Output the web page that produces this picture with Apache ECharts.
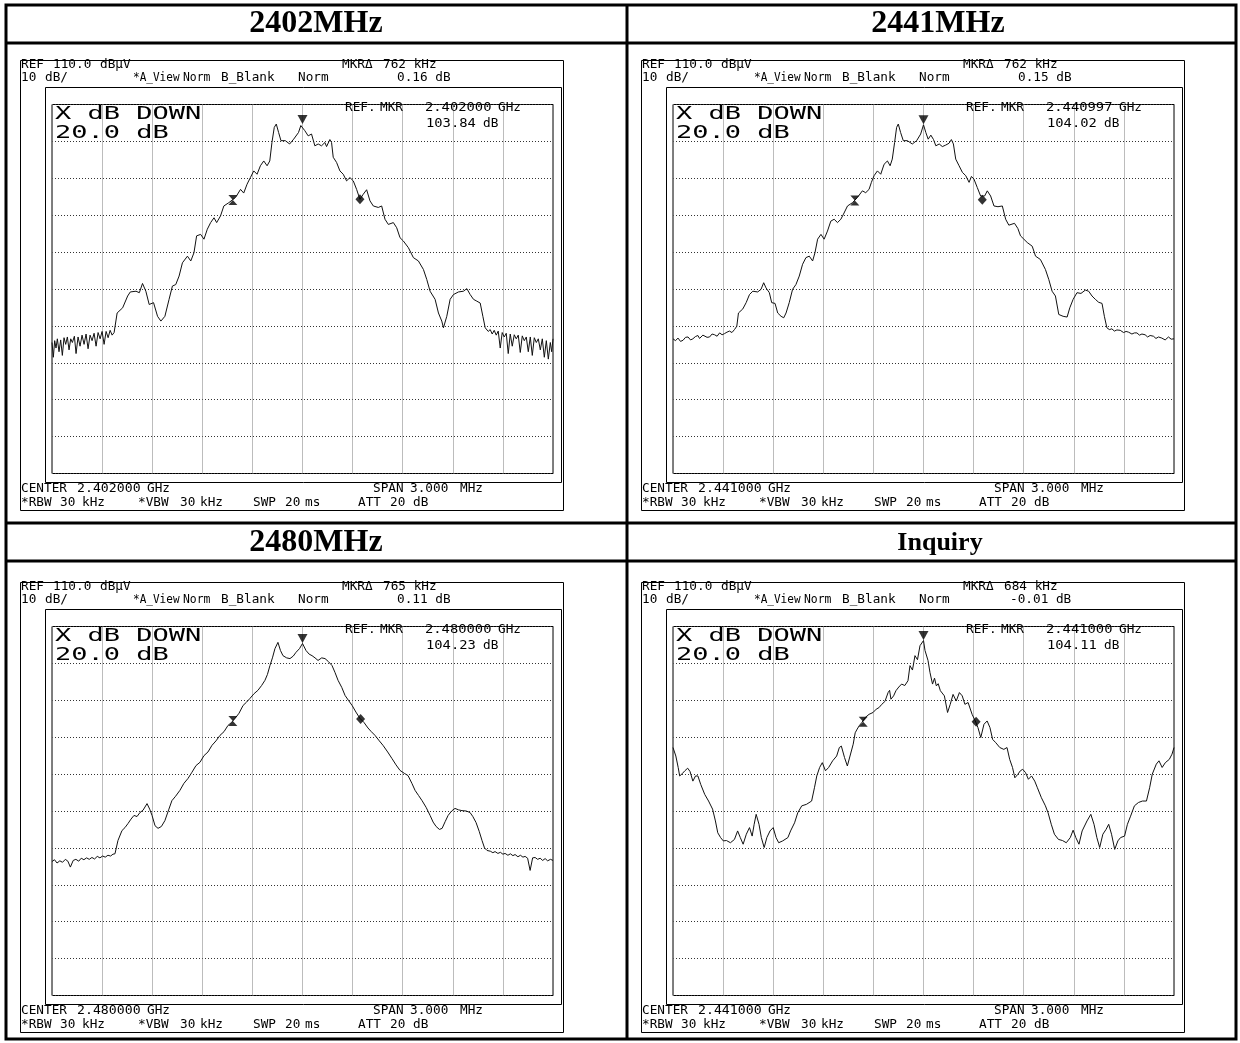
<!DOCTYPE html>
<html><head><meta charset="utf-8">
<script src="https://cdn.jsdelivr.net/npm/echarts/dist/echarts.min.js"></script>
<style>html,body{margin:0;padding:0;background:#fff}#c{width:1240px;height:1043px}</style>
</head><body><div id="c"></div>
<script>
// ---------- panel texts ----------
const titles = ['2402MHz', '2441MHz', '2480MHz', 'Inquiry'];
const mkrDeltaFreq = ['762 kHz', '762 kHz', '765 kHz', '684 kHz'];
const mkrDeltaLevel = ['0.16 dB', '0.15 dB', '0.11 dB', '-0.01 dB'];
const refMkrFreq = ['2.402000', '2.440997', '2.480000', '2.441000'];
const refMkrLevel = ['103.84', '104.02', '104.23', '104.11'];
const centerFreq = ['2.402000', '2.441000', '2.480000', '2.441000'];

// ---------- axis scale (offset kHz, dBuV) ----------
const xMin = -1500, xMax = 1500, xStep = 300;
const yMin = 10, yMax = 110, yStep = 10;

// ---------- traces: frequency offset (kHz) and level (dBuV) ----------
const freq2402 = [-1500,-1492,-1484,-1476,-1468,-1458,-1448,-1438,-1428,-1418,-1408,-1398,-1388,-1378,-1366,-1356,-1344,-1332,-1320,-1308,-1296,-1284,-1272,-1260,-1248,-1236,-1224,-1212,-1200,-1188,-1176,-1164,-1152,-1140,-1128,
 -1110,-1077,-1047,-1031,-997,-977,-958,-938,-918,-892,-868,-848,-824,-799,-779,-759,-739,-719,-689,-669,-650,-634,-610,-590,-570,-550,-530,-514,-491,-471,-441,-401,-371,-352,-332,-312,-292,-272,-252,-232,-212,-196,-183,-169,-157,-143,-129,-103,-77,-53,-24,-10,0,
 14,34,54,74,94,114,134,144,164,174,184,204,224,244,264,284,304,324,344,364,384,404,424,454,474,494,514,544,564,584,604,634,664,694,724,744,764,794,814,834,844,864,884,904,934,964,984,1004,1024,1044,1064,1080,1094,
 1100,1112,1124,1136,1148,1160,1172,1184,1196,1208,1220,1232,1244,1256,1268,1280,1292,1304,1316,1328,1340,1352,1364,1376,1388,1400,1412,1424,1436,1448,1460,1472,1484,1492,1500];
const level2402 = [45.5,41.5,46.0,44.0,46.5,43.0,46.2,42.0,46.8,45.0,47.0,43.5,46.5,45.5,47.2,42.5,47.0,44.5,47.5,45.0,47.8,43.8,47.5,46.0,48.0,44.5,48.2,46.5,48.5,45.0,48.5,46.8,48.8,47.5,48.2,
 53.5,54.9,58.1,59.2,59.4,59.0,61.5,59.4,55.8,56.3,52.6,51.3,52.6,57.2,60.8,61.2,63.5,67.1,68.9,67.6,69.8,74.4,74.8,73.5,76.2,78.0,79.3,78.0,79.8,82.5,83.4,84.8,87.0,86.0,88.4,90.2,92.0,91.1,93.4,94.7,93.4,94.7,99.7,103.8,104.7,102.4,100.2,100.2,99.3,100.6,102.4,104.3,104.6,
 102.9,101.5,102.0,98.8,99.3,98.8,99.7,98.6,100.5,99.7,95.7,94.3,92.0,91.1,89.3,90.2,89.3,87.0,84.3,85.7,86.9,83.9,82.5,82.1,82.5,78.9,77.5,78.0,76.6,73.9,73.0,71.2,68.5,67.6,65.3,62.6,59.4,57.2,53.5,51.3,49.5,52.6,57.2,58.5,59.2,59.4,60.1,58.5,57.2,56.7,56.2,52.6,49.5,
 49.2,48.5,49.0,47.8,48.8,47.5,48.6,44.0,48.2,47.0,48.0,42.5,47.8,44.5,47.6,46.5,47.5,42.8,47.3,46.0,47.0,43.0,47.0,42.0,46.8,45.5,46.5,43.5,46.5,41.5,46.0,41.0,45.5,43.0,46.5];

const freq2441 = [-1500,-1485,-1470,-1455,-1440,-1425,-1410,-1395,-1381,-1366,-1351,-1341,-1331,-1321,-1311,-1296,-1281,-1266,-1251,-1236,-1221,-1206,-1192,-1177,-1162,-1147,-1132,-1118,
 -1108,-1082,-1062,-1042,-1022,-993,-973,-957,-943,-923,-909,-889,-873,-853,-837,-823,-804,-784,-764,-744,-724,-704,-684,-664,-650,-634,-614,-595,-575,-555,-535,-515,-495,-479,-455,-425,-396,-366,-346,-326,-312,-296,-276,-256,-236,-216,-200,-187,-173,-161,-151,-137,-121,-97,-67,-41,-17,0,
 14,28,44,60,74,94,113,133,153,167,179,193,213,233,253,273,287,302,322,342,366,382,402,422,446,472,492,511,545,565,581,601,621,651,671,700,730,750,770,790,810,836,860,876,896,919,943,969,989,1009,1029,1049,1069,1083,1098,
 1113,1128,1143,1158,1178,1198,1213,1228,1248,1263,1278,1293,1308,1327,1342,1357,1377,1392,1407,1427,1447,1467,1483,1500];
const level2441 = [46.5,46.0,46.7,45.8,46.1,46.9,47.0,46.2,46.5,47.1,47.4,46.6,46.7,47.5,47.6,46.9,47.0,47.8,47.6,47.2,48.1,47.6,47.9,48.3,48.6,48.2,49.0,49.9,
 53.5,54.6,56.3,58.5,59.4,59.2,59.9,61.7,60.3,59.0,56.3,56.1,53.5,52.6,52.2,53.5,56.3,59.9,61.2,63.5,66.7,68.5,68.9,67.6,69.8,73.5,74.8,73.5,75.7,78.4,78.9,78.0,78.9,80.3,82.5,83.4,84.8,86.6,86.1,87.0,88.9,90.7,92.0,91.1,93.8,94.7,93.4,95.2,99.7,103.8,104.7,102.4,100.2,100.2,99.3,100.2,102.0,104.5,
 102.4,100.6,101.7,100.5,98.8,99.3,98.6,99.0,99.5,100.5,99.3,95.2,93.4,91.6,90.7,88.9,90.5,89.8,87.5,85.2,85.2,86.6,85.2,82.5,82.3,82.5,78.9,77.3,77.8,76.4,74.4,73.5,72.6,71.6,68.9,68.0,65.3,62.6,59.4,58.1,53.1,52.6,52.4,54.9,57.2,59.0,58.8,59.7,59.4,58.1,57.2,56.4,56.1,52.6,49.5,
 49.0,49.2,48.6,48.9,48.8,48.2,48.5,48.3,47.8,48.1,48.1,47.5,47.8,47.6,47.0,47.4,47.2,46.6,47.0,46.7,46.2,47.0,46.4,46.5];

const freq2480 = [-1500,-1485,-1470,-1453,-1437,-1420,-1405,-1390,-1373,-1357,-1340,-1325,-1309,-1293,-1277,-1261,-1245,-1229,-1213,-1197,-1181,-1165,-1149,-1135,-1123,
 -1105,-1081,-1063,-1045,-1027,-1009,-991,-973,-955,-931,-915,-901,-883,-865,-845,-824,-800,-782,-760,-734,-710,-686,-662,-638,-614,-590,-566,-542,-518,-494,-470,-446,-425,-404,-380,-356,-335,-315,-290,-267,-245,-225,-210,-195,-180,-165,-147,-132,-117,-95,-75,-55,-39,-18,0,
 21,40,57,75,93,115,135,155,177,195,213,235,255,275,297,320,344,368,392,412,434,460,482,510,536,560,584,610,632,655,674,695,716,740,764,782,800,820,836,855,872,893,913,935,955,980,1003,1020,1039,1058,1075,1090,1105,
 1125,1140,1153,1170,1185,1200,1213,1230,1245,1260,1273,1290,1305,1320,1333,1348,1363,1378,1393,1408,1423,1438,1453,1468,1485,1500];
const level2480 = [46.3,46.8,45.9,46.5,46.1,46.9,46.4,44.8,46.6,46.9,46.4,47.2,46.8,47.3,46.9,47.4,47.0,47.7,47.3,47.8,47.5,48.0,47.8,48.3,48.4,
 52.0,54.7,55.5,56.6,57.8,58.8,58.5,59.6,60.2,62.0,60.5,58.8,56.0,55.3,55.8,57.4,60.5,62.8,64.0,65.6,67.5,68.8,70.5,72.3,73.2,75.0,76.0,77.8,79.0,80.5,81.5,83.2,84.0,85.1,86.5,88.6,89.5,90.5,91.8,92.7,94.0,95.4,97.0,99.4,101.5,104.0,105.7,103.5,102.1,101.5,101.3,102.0,103.0,104.0,105.4,
 103.5,102.5,102.1,101.5,100.8,101.5,101.3,100.5,99.4,97.5,95.4,93.5,91.3,90.0,88.6,86.8,85.1,84.0,82.5,81.5,80.5,79.0,77.8,76.0,74.2,72.5,71.0,70.2,69.6,67.5,65.6,64.2,62.8,61.0,58.8,57.0,55.8,55.0,55.3,57.2,58.8,60.0,60.7,60.3,60.1,60.0,59.6,58.5,56.9,54.5,52.0,50.0,49.3,
 49.1,48.7,49.0,48.5,48.8,48.3,48.5,48.0,48.4,47.9,48.2,47.6,48.0,47.5,47.7,47.2,43.9,47.3,47.4,46.9,47.2,46.6,47.1,46.5,46.9,46.6];

const freqInquiry = [-1500,-1483,-1469,-1460,-1445,-1429,-1412,-1398,-1381,-1365,-1351,-1334,-1310,-1287,-1263,-1246,-1232,-1215,-1199,-1180,-1156,-1132,-1113,-1097,-1080,-1061,-1042,-1026,-1014,-1002,-985,-971,-954,-938,-919,-900,-883,-867,-843,-812,-796,-772,-753,-729,-701,-670,-653,-639,-622,-606,-587,-568,-544,-520,-504,-492,-473,-456,-440,-421,-409,-397,-385,-369,-350,-326,-302,-283,-267,-250,-231,-212,-203,-195,-179,-165,-148,-131,-112,-93,-81,-66,-51,-36,-21,0,
 9,27,39,54,66,77,88,101,125,144,160,177,196,215,232,248,267,291,310,326,343,362,381,398,414,433,457,481,500,516,533,547,564,580,594,611,628,647,666,682,706,730,746,765,784,808,832,855,879,896,912,931,950,979,1002,1021,1038,1055,1074,1093,1109,1126,1145,1164,1180,1204,1221,1240,1263,1287,1311,1335,1354,1370,1394,1410,1429,1448,1472,1488,1500];
const levelInquiry = [77.2,74.9,71.8,69.5,70.1,70.9,71.6,70.7,68.1,69.5,69.5,67.2,64.5,62.7,60.5,57.3,54.1,52.8,51.9,52.0,51.4,52.3,54.6,52.8,51.0,53.7,55.5,53.2,56.4,59.1,56.4,52.8,50.1,52.8,54.6,55.5,52.8,51.4,51.9,52.8,54.6,56.8,59.5,61.4,61.8,62.7,66.3,69.5,71.8,73.1,70.9,71.8,73.6,74.9,77.2,77.6,74.5,72.2,74.9,78.1,81.2,82.2,83.1,84.0,85.3,86.2,86.7,87.6,88.0,88.9,89.7,92.1,92.7,90.3,91.2,92.6,93.6,94.4,94.0,95.3,99.4,98.2,102.1,101.0,104.8,106.2,
 103.5,100.8,97.5,94.4,96.0,93.9,94.5,92.6,91.2,86.7,88.9,91.6,89.8,92.1,91.2,88.9,89.4,86.2,84.4,82.6,79.9,83.5,84.4,82.6,79.4,78.5,77.2,76.7,77.2,74.0,71.8,69.0,69.9,70.9,71.3,70.4,68.6,69.5,68.1,66.3,63.6,61.4,59.5,56.4,53.7,52.3,52.0,51.4,52.8,54.8,52.8,51.0,54.6,57.3,59.1,56.4,52.8,50.1,53.7,55.0,56.4,53.7,49.6,51.9,52.8,53.2,56.4,58.6,61.4,62.3,62.7,62.7,66.3,70.0,72.7,73.6,71.8,73.1,74.0,75.4,77.2];

// ---------- markers ----------
const peakFreq = [0, 0, 0, 0];
const peakLevel = [104.6, 104.5, 105.4, 106.2];
const lowMkrFreq = [-417, -411, -417, -361];
const lowMkrLevel = [84.1, 84.0, 84.4, 84.2];
const highMkrFreq = [344, 352, 348, 315];
const highMkrLevel = [84.3, 84.2, 84.9, 84.2];

const freqs = [freq2402, freq2441, freq2480, freqInquiry];
const levels = [level2402, level2441, level2480, levelInquiry];

// ---------- layout ----------
const offs = [[0, 0], [621, 0], [0, 522], [621, 522]];
const G = {left: 52, top: 104.5, width: 501, height: 369};
const SMALL = '12px "DejaVu Sans Mono"';

function txt(x, y, s, o) {
  o = o || {};
  return {type: 'text', x: x, y: y, scaleX: o.sx || 1.06, z: 100, silent: true,
    style: {text: s, x: 0, y: 0, font: o.font || SMALL, fill: '#000',
      align: o.align || 'left', textAlign: o.align || 'left',
      verticalAlign: 'middle', textVerticalAlign: 'middle'}};
}
function rect(x, y, w, h, lw) {
  return {type: 'rect', z: 90, silent: true, shape: {x: x, y: y, width: w, height: h},
    style: {fill: null, stroke: '#000', lineWidth: lw || 1}};
}
function line(x1, y1, x2, y2, lw) {
  return {type: 'line', z: 90, silent: true, shape: {x1: x1, y1: y1, x2: x2, y2: y2},
    style: {stroke: '#000', lineWidth: lw || 1}};
}

const graphic = [];
// table
graphic.push(rect(6, 5, 1230, 1034, 3));
graphic.push(line(627, 5, 627, 1039, 3));
graphic.push(line(6, 43, 1236, 43, 3));
graphic.push(line(6, 523, 1236, 523, 3));
graphic.push(line(6, 561, 1236, 561, 3));
// headers
const headerPos = [[316, 24], [938, 24], [316, 543], [940, 543]];
titles.forEach(function (t, i) {
  const big = i < 3;
  graphic.push(txt(headerPos[i][0], headerPos[i][1], t, {sx: 1, align: 'center',
    font: 'bold ' + (big ? 32 : 26) + 'px "Liberation Serif"'}));
});

const grids = [], xAxes = [], yAxes = [], series = [];
offs.forEach(function (o, i) {
  const dx = o[0], dy = o[1];
  // screenshot box and instrument frame
  graphic.push(rect(20.5 + dx, 60.5 + dy, 543, 450, 1));
  graphic.push(rect(45.5 + dx, 87.5 + dy, 516, 395, 1));
  // header texts
  graphic.push(txt(21 + dx, 65 + dy, 'REF'));
  graphic.push(txt(53 + dx, 65 + dy, '110.0'));
  graphic.push(txt(100 + dx, 65 + dy, 'dBµV'));
  graphic.push(txt(342 + dx, 65 + dy, 'MKRΔ'));
  graphic.push(txt(383 + dx, 65 + dy, mkrDeltaFreq[i]));
  graphic.push(txt(21 + dx, 78 + dy, '10'));
  graphic.push(txt(45 + dx, 78 + dy, 'dB/'));
  graphic.push(txt(133 + dx, 78 + dy, '*A_View', {sx: 0.92}));
  graphic.push(txt(183 + dx, 78 + dy, 'Norm', {sx: 0.95}));
  graphic.push(txt(221 + dx, 78 + dy, 'B_Blank'));
  graphic.push(txt(298 + dx, 78 + dy, 'Norm'));
  const lv = mkrDeltaLevel[i];
  graphic.push(txt((lv.charAt(0) === '-' ? 389 : 397) + dx, 78 + dy, lv));
  // X dB DOWN
  graphic.push(txt(55 + dx, 114 + dy, 'X dB DOWN', {font: '18px "DejaVu Sans Mono"', sx: 1.5}));
  graphic.push(txt(55 + dx, 133 + dy, '20.0 dB', {font: '18px "DejaVu Sans Mono"', sx: 1.5}));
  // REF. MKR
  graphic.push(txt(345 + dx, 108 + dy, 'REF.'));
  graphic.push(txt(380 + dx, 108 + dy, 'MKR'));
  graphic.push(txt(425 + dx, 108 + dy, refMkrFreq[i], {sx: 1.15}));
  graphic.push(txt(498 + dx, 108 + dy, 'GHz'));
  graphic.push(txt(426 + dx, 124 + dy, refMkrLevel[i], {sx: 1.15}));
  graphic.push(txt(483 + dx, 124 + dy, 'dB'));
  // bottom texts
  graphic.push(txt(21 + dx, 489 + dy, 'CENTER'));
  graphic.push(txt(77 + dx, 489 + dy, centerFreq[i], {sx: 1.1}));
  graphic.push(txt(147 + dx, 489 + dy, 'GHz'));
  graphic.push(txt(373 + dx, 489 + dy, 'SPAN'));
  graphic.push(txt(410 + dx, 489 + dy, '3.000'));
  graphic.push(txt(460 + dx, 489 + dy, 'MHz'));
  graphic.push(txt(21 + dx, 502.5 + dy, '*RBW'));
  graphic.push(txt(60 + dx, 502.5 + dy, '30'));
  graphic.push(txt(82 + dx, 502.5 + dy, 'kHz'));
  graphic.push(txt(138 + dx, 502.5 + dy, '*VBW'));
  graphic.push(txt(180 + dx, 502.5 + dy, '30'));
  graphic.push(txt(200 + dx, 502.5 + dy, 'kHz'));
  graphic.push(txt(253 + dx, 502.5 + dy, 'SWP'));
  graphic.push(txt(285 + dx, 502.5 + dy, '20'));
  graphic.push(txt(305 + dx, 502.5 + dy, 'ms'));
  graphic.push(txt(358 + dx, 502.5 + dy, 'ATT'));
  graphic.push(txt(390 + dx, 502.5 + dy, '20'));
  graphic.push(txt(413 + dx, 502.5 + dy, 'dB'));

  grids.push({left: G.left + dx, top: G.top + dy, width: G.width, height: G.height,
    show: true, borderColor: '#000', borderWidth: 1, backgroundColor: 'transparent'});
  xAxes.push({type: 'value', gridIndex: i, min: xMin, max: xMax, interval: xStep,
    axisLine: {show: false}, axisTick: {show: false}, axisLabel: {show: false},
    splitLine: {show: true, lineStyle: {color: '#7a7a7a', width: 1, type: [1, 1]}}});
  yAxes.push({type: 'value', gridIndex: i, min: yMin, max: yMax, interval: yStep,
    axisLine: {show: false}, axisTick: {show: false}, axisLabel: {show: false},
    splitLine: {show: true, lineStyle: {color: '#333', width: 1, type: [1, 2]}}});

  const data = freqs[i].map(function (f, k) { return [f, levels[i][k]]; });
  series.push({type: 'line', xAxisIndex: i, yAxisIndex: i, data: data, symbol: 'none',
    showSymbol: false, lineStyle: {color: '#111', width: 1}, silent: true, z: 3});
  series.push({type: 'scatter', xAxisIndex: i, yAxisIndex: i,
    data: [[peakFreq[i], peakLevel[i]]], symbol: 'triangle', symbolRotate: 180,
    symbolSize: [10, 9], symbolOffset: [0, -5], itemStyle: {color: '#000'}, silent: true, z: 5});
  series.push({type: 'scatter', xAxisIndex: i, yAxisIndex: i,
    data: [[lowMkrFreq[i], lowMkrLevel[i]]], symbol: 'path://M0,0L10,0L5,5L10,10L0,10L5,5Z',
    symbolSize: [9, 10], itemStyle: {color: '#000'}, silent: true, z: 5});
  series.push({type: 'scatter', xAxisIndex: i, yAxisIndex: i,
    data: [[highMkrFreq[i], highMkrLevel[i]]], symbol: 'diamond',
    symbolSize: [9, 10], itemStyle: {color: '#000'}, silent: true, z: 5});
});

const chart = echarts.init(document.getElementById('c'), null, {renderer: 'canvas'});
chart.setOption({
  backgroundColor: '#fff', animation: false,
  grid: grids, xAxis: xAxes, yAxis: yAxes, series: series, graphic: graphic
});
</script>
</body></html>
